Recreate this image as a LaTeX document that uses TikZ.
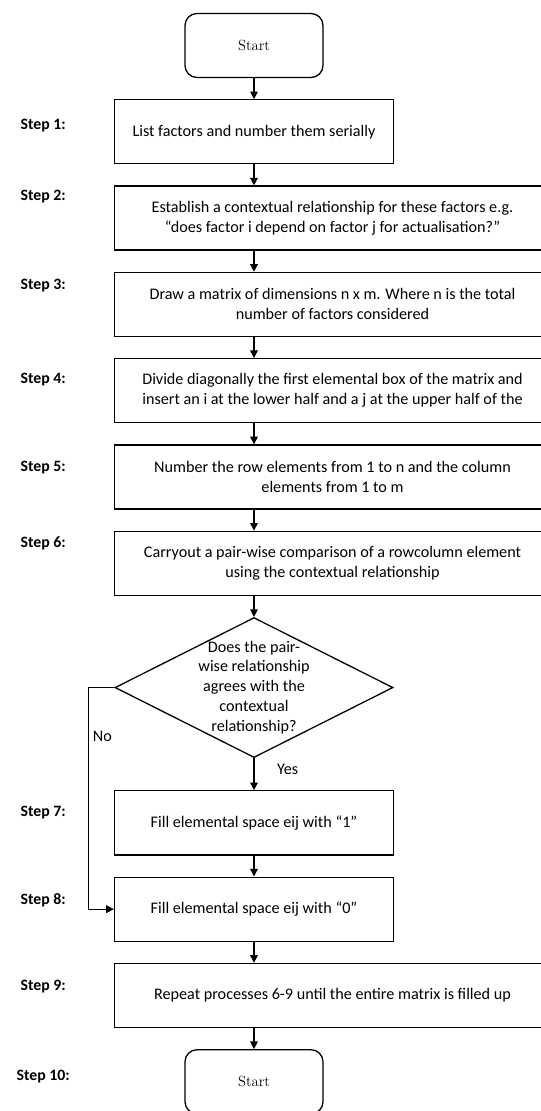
\documentclass[tikz,border=0pt]{standalone}
\usepackage{fontspec}
\newfontfamily\calibri{Carlito}
\usepackage{tikz}
\usetikzlibrary{positioning}
\usetikzlibrary{shapes.geometric,arrows.meta}

\tikzset{
  term/.style={draw, rounded corners=0.36cm, minimum width=4.14cm,
               minimum height=1.92cm, font=\fontsize{12.5}{15}\selectfont},
  box/.style={draw, minimum width=8.37cm, minimum height=1.92cm, align=center,
              font=\calibri\fontsize{13.8}{17}\selectfont},
  widebox/.style={box, minimum width=13.08cm},
  decision/.style={draw, diamond, minimum width=8.34cm, minimum height=4.2cm,
                   inner sep=0pt},
  steplabel/.style={anchor=west, font=\calibri\bfseries\fontsize{13.5}{17}\selectfont},
  flowtext/.style={font=\calibri\fontsize{13.8}{17}\selectfont}
}

\begin{document}
\begin{tikzpicture}[->,>={Triangle[length=6.5pt,width=6.5pt]},line width=1.1pt,
                    node distance=.63cm, x=0.03cm, y=-0.03cm]
\useasboundingbox (0,0) rectangle (541,1111);
\node[term] (start) at (254,45.5) {Start};
\node[box, below = of start] (s1) {List factors and number them serially};
\node[widebox, below = of s1.south west, anchor=north west] (s2)
     {Establish a contextual relationship for these factors e.g.\\
      “does factor i depend on factor j for actualisation?”};
\node[widebox, below = of s2.south west, anchor=north west] (s3)
     {Draw a matrix of dimensions n x m. Where n is the total\\
      number of factors considered};
\node[widebox, below = of s3.south west, anchor=north west] (s4)
     {Divide diagonally the first elemental box of the matrix and\\
      insert an i at the lower half and a j at the upper half of the};
\node[widebox, below = of s4.south west, anchor=north west] (s5)
     {Number the row elements from 1 to n and the column\\
      elements from 1 to m};
\node[widebox, below = of s5.south west, anchor=north west] (s6)
     {Carryout a pair-wise comparison of a rowcolumn element\\
      using the contextual relationship};
\node[decision, anchor=north] (q) at ([yshift=-.63cm]s6.south -| start) {};
\node[flowtext, align=center] (qtext) at (q)
     {Does the pair-\\wise relationship\\agrees with the\\contextual\\relationship?};
\node[box, below = .96cm of q] (s7) {Fill elemental space eij with “1”};
\node[box, below = of s7] (s8) {Fill elemental space eij with “0”};
\node[widebox, below = of s8.south west, anchor=north west] (s9)
     {Repeat processes 6-9 until the entire matrix is filled up};
\node[term, anchor=north] (end) at ([yshift=-.63cm]s9.south -| start) {Start};
\coordinate[left = .78cm of q.west] (qno);

% step labels
\foreach \n/\x/\y in {1/16/126,2/16/197,3/16/286,4/16/380,5/16/468,
                      6/16/543,7/16/813,8/16/900,9/16/987,10/12/1077}
  \node[steplabel] (lab\n) at (\x,\y) {Step \n:};

\path (start) edge (s1)
      (s1) edge (s1.south |- s2.north)
      (s2.south -| start) edge (s3.north -| start)
      (s3.south -| start) edge (s4.north -| start)
      (s4.south -| start) edge (s5.north -| start)
      (s5.south -| start) edge (s6.north -| start)
      (s6.south -| start) edge (q)
      (q) edge node[flowtext, pos=.36, right, xshift=.56cm] (yes) {Yes} (s7)
      (s7) edge (s8)
      (s8) edge (s8.south |- s9.north)
      (s9.south -| start) edge (end);
\draw (q.west) -- (qno) |- node[flowtext, pos=.11, right] (no) {No} (s8.west);
\end{tikzpicture}
\end{document}
